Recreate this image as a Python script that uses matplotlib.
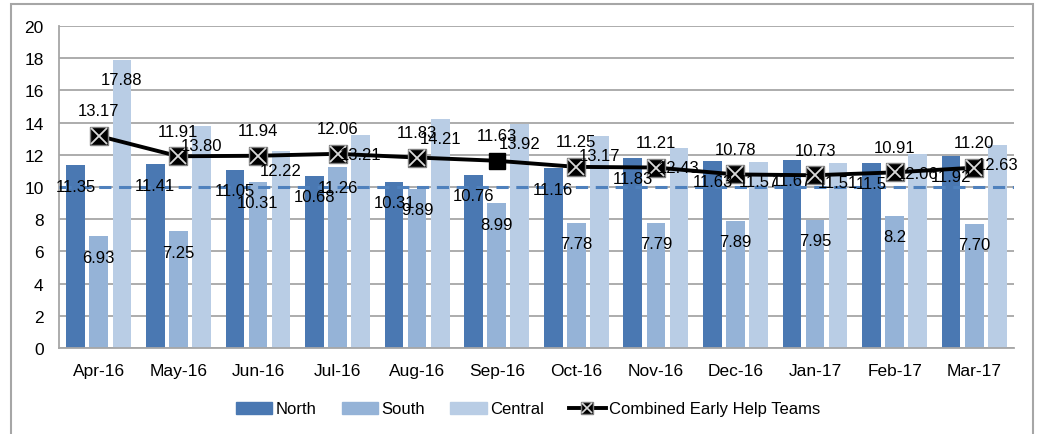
import numpy as np
import matplotlib
matplotlib.use('Agg')
import matplotlib.pyplot as plt
from matplotlib.lines import Line2D
from matplotlib.patches import Patch, Rectangle

plt.rcParams['font.family'] = ['Liberation Sans', 'DejaVu Sans']

months = ['Apr-16', 'May-16', 'Jun-16', 'Jul-16', 'Aug-16', 'Sep-16',
          'Oct-16', 'Nov-16', 'Dec-16', 'Jan-17', 'Feb-17', 'Mar-17']
north = [11.35, 11.41, 11.05, 10.68, 10.31, 10.76, 11.16, 11.83, 11.63, 11.67, 11.5, 11.92]
north_lbl = ['11.35', '11.41', '11.05', '10.68', '10.31', '10.76', '11.16', '11.83',
             '11.63', '11.67', '11.5', '11.92']
south = [6.93, 7.25, 10.31, 11.26, 9.89, 8.99, 7.78, 7.79, 7.89, 7.95, 8.2, 7.70]
south_lbl = ['6.93', '7.25', '10.31', '11.26', '9.89', '8.99', '7.78', '7.79',
             '7.89', '7.95', '8.2', '7.70']
central = [17.88, 13.80, 12.22, 13.21, 14.21, 13.92, 13.17, 12.43, 11.57, 11.51, 12.06, 12.63]
combined = [13.17, 11.91, 11.94, 12.06, 11.83, 11.63, 11.25, 11.21, 10.78, 10.73, 10.91, 11.20]
target = 10

c_north = '#4a78b2'
c_south = '#95b3d7'
c_central = '#b9cde5'
c_grid = '#a6a6a6'

fig = plt.figure(figsize=(10.38, 4.35), dpi=100)
ax = fig.add_axes([59 / 1038, 86 / 435, 955 / 1038, 322 / 435])

x = np.arange(len(months))
w = 0.235
off = 0.29
ax.bar(x - off, north, w, color=c_north, zorder=2)
ax.bar(x, south, w, color=c_south, zorder=2)
ax.bar(x + off, central, w, color=c_central, zorder=2)

# target line
ax.axhline(target, color='#4f81bd', lw=2.2, ls=(0, (4, 2.5)), zorder=3)

ax.plot(x, combined, color='black', lw=2.8, zorder=4)
mask = [i for i in range(len(x)) if i != 5]
ax.plot(x[mask], np.array(combined)[mask], ls='none', marker='s', ms=13,
        mfc='black', mec='#808080', mew=1, zorder=5)
ax.plot(x[mask], np.array(combined)[mask], ls='none', marker='x', ms=11,
        mec='#d9d9d9', mew=1.3, zorder=6)
ax.plot(x[5], combined[5], ls='none', marker='s', ms=12, mfc='black', mec='black', zorder=5)

fs = 12
for i in range(len(x)):
    ax.annotate(north_lbl[i], (x[i] - off, north[i]), xytext=(0, -15), textcoords='offset points',
                ha='center', va='center', fontsize=fs, zorder=7)
    ax.annotate(south_lbl[i], (x[i], south[i]), xytext=(0, -15), textcoords='offset points',
                ha='center', va='center', fontsize=fs, zorder=7)
    ax.annotate(f'{central[i]:.2f}', (x[i] + off, central[i]), xytext=(0, -14), textcoords='offset points',
                ha='center', va='center', fontsize=fs, zorder=7)
    ax.annotate(f'{combined[i]:.2f}', (x[i], combined[i]), xytext=(0, 18), textcoords='offset points',
                ha='center', va='center', fontsize=fs, zorder=7)

ax.set_xlim(-0.5, len(x) - 0.5)
ax.set_ylim(0, 20)
ax.set_yticks(range(0, 21, 2))
ax.set_xticks(x)
ax.set_xticklabels(months)
ax.tick_params(axis='both', length=0, labelsize=12.5)
ax.tick_params(axis='y', pad=11)
ax.tick_params(axis='x', pad=11)
ax.yaxis.grid(True, color=c_grid, lw=1.3, zorder=0)
ax.set_axisbelow(True)
for s in ['top', 'right']:
    ax.spines[s].set_visible(False)
for s in ['left', 'bottom']:
    ax.spines[s].set_color(c_grid)
    ax.spines[s].set_linewidth(1.3)

handles = [
    Patch(color=c_north),
    Patch(color=c_south),
    Patch(color=c_central),
    (Line2D([], [], color='black', lw=2.8, marker='s', ms=9, mfc='black', mec='#808080'),
     Line2D([], [], ls='none', marker='x', ms=7, mec='#d9d9d9', mew=1.2)),
]
fig.legend(handles, ['North', 'South', 'Central', 'Combined Early Help Teams'],
           loc='center', bbox_to_anchor=(528 / 1038, 25 / 435), ncol=4, frameon=False,
           fontsize=12, handlelength=2.2, handleheight=0.7, handletextpad=0.2, columnspacing=1.5)

fig.patches.append(Rectangle((11 / 1038, -0.05), 1022 / 1038, 1.05 - 5 / 435,
                             transform=fig.transFigure, fill=False, edgecolor=c_grid, lw=1.5))

fig.savefig('out.png', dpi=100)
